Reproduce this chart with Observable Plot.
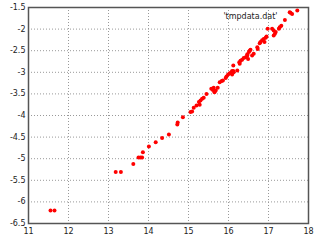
<!DOCTYPE html>
<html>
<head>
<meta charset="utf-8">
<script src="https://cdn.jsdelivr.net/npm/d3@7"></script>
<script src="https://cdn.jsdelivr.net/npm/@observablehq/plot@0.6"></script>
<style>
html,body{margin:0;padding:0;background:#fff;}
#chart{width:320px;height:240px;}
</style>
</head>
<body>
<div id="chart"></div>
<script>
const xs = [11.55, 11.65, 13.18, 13.31, 13.62, 13.75, 13.8, 13.84, 13.86, 14.01, 14.18,
  14.34, 14.51, 14.72, 14.73, 14.86, 15.05, 15.09, 15.13, 15.2, 15.26, 15.28, 15.3, 15.34, 15.38,
  15.45, 15.57, 15.61, 15.63, 15.65, 15.68, 15.73, 15.78, 15.83, 15.86, 15.93, 15.95, 15.99,
  16.03, 16.07, 16.09, 16.09, 16.12, 16.12, 16.13, 16.22, 16.27, 16.28, 16.3, 16.34, 16.38,
  16.43, 16.47, 16.47, 16.49, 16.51, 16.53, 16.55, 16.59, 16.63, 16.72, 16.73, 16.78, 16.8,
  16.84, 16.88, 16.9, 16.93, 16.95, 16.98, 17.09, 17.13, 17.13, 17.16, 17.18, 17.26, 17.28,
  17.32, 17.41, 17.53, 17.55, 17.59, 17.72];
const ys = [-6.2, -6.2, -5.31, -5.31, -5.12, -4.97, -4.97, -4.97, -4.85, -4.72, -4.62,
  -4.52, -4.44, -4.21, -4.16, -4.04, -3.92, -3.91, -3.82, -3.77, -3.69, -3.75, -3.65, -3.61, -3.59,
  -3.5, -3.38, -3.41, -3.36, -3.46, -3.42, -3.36, -3.23, -3.2, -3.19, -3.13, -3.1, -3.05,
  -3.02, -3.0, -2.97, -3.05, -2.97, -2.84, -3.0, -2.96, -2.77, -2.8, -2.73, -2.71, -2.67,
  -2.65, -2.61, -2.58, -2.69, -2.53, -2.5, -2.48, -2.61, -2.57, -2.42, -2.46, -2.33, -2.3,
  -2.26, -2.23, -2.3, -2.2, -2.17, -1.99, -1.99, -2.03, -2.15, -2.11, -2.07, -1.99, -1.96,
  -1.92, -1.79, -1.61, -1.62, -1.65, -1.57];
const xTicks = [11, 12, 13, 14, 15, 16, 17, 18];
const yTicks = [-6.5, -6, -5.5, -5, -4.5, -4, -3.5, -3, -2.5, -2, -1.5];
const seriesLabel = "'tmpdata.dat'";

const data = xs.map((x, i) => ({x, y: ys[i]}));

const chart = Plot.plot({
  width: 320,
  height: 240,
  marginLeft: 28,
  marginRight: 12,
  marginTop: 7,
  marginBottom: 17,
  style: {fontFamily: "DejaVu Sans, sans-serif", fontSize: "8px", color: "#222", background: "#fff"},
  x: {type: "linear", domain: [11, 18], ticks: xTicks, label: null},
  y: {type: "linear", domain: [-6.5, -1.5], ticks: yTicks, label: null},
  marks: [
    Plot.gridX(xTicks, {stroke: "#999", strokeOpacity: 1, strokeDasharray: "1,2"}),
    Plot.gridY(yTicks, {stroke: "#999", strokeOpacity: 1, strokeDasharray: "1,2"}),
    Plot.axisX(xTicks, {tickSize: 0, tickPadding: 5, tickFormat: d => String(d), fontSize: 8}),
    Plot.axisY(yTicks, {tickSize: 0, tickPadding: 3, tickFormat: d => String(d), fontSize: 8}),
    Plot.frame({stroke: "#555", strokeWidth: 1.5}),
    Plot.dot(data, {x: "x", y: "y", r: 2, fill: "#ff0000", stroke: "none"}),
    Plot.text([seriesLabel], {frameAnchor: "top-right", dx: -31, dy: 6, textAnchor: "end", fill: "#222", fontSize: 8})
  ]
});
document.getElementById("chart").appendChild(chart);
</script>
</body>
</html>
